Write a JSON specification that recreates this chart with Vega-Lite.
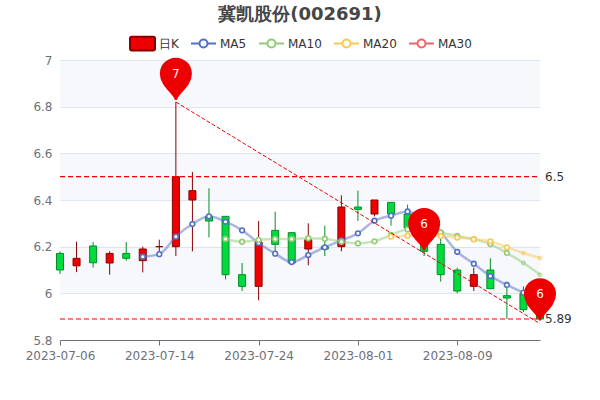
{
  "$schema": "https://vega.github.io/schema/vega-lite/v6.json",
  "width": 480,
  "height": 280,
  "autosize": "none",
  "padding": {"left": 60, "top": 60, "right": 60, "bottom": 60},
  "background": "white",
  "title": {
    "text": "冀凯股份(002691)",
    "font": "DejaVu Sans",
    "fontSize": 18,
    "fontWeight": "bold",
    "color": "#464646",
    "anchor": "middle",
    "offset": 6
  },
  "config": {
    "font": "DejaVu Sans",
    "view": {"stroke": null}
  },
  "datasets": {
    "bands": [
      {"lo": 6.8, "hi": 7},
      {"lo": 6.4, "hi": 6.6},
      {"lo": 6.0, "hi": 6.2}
    ],
    "candles": [
      {"date": "2023-07-06", "open": 6.171, "close": 6.1, "low": 6.083, "high": 6.18},
      {"date": "2023-07-07", "open": 6.118, "close": 6.15, "low": 6.091, "high": 6.221},
      {"date": "2023-07-10", "open": 6.203, "close": 6.131, "low": 6.11, "high": 6.22},
      {"date": "2023-07-11", "open": 6.13, "close": 6.171, "low": 6.08, "high": 6.18},
      {"date": "2023-07-12", "open": 6.171, "close": 6.15, "low": 6.14, "high": 6.22},
      {"date": "2023-07-13", "open": 6.14, "close": 6.19, "low": 6.09, "high": 6.2},
      {"date": "2023-07-14", "open": 6.2, "close": 6.2, "low": 6.16, "high": 6.23},
      {"date": "2023-07-17", "open": 6.2, "close": 6.5, "low": 6.16, "high": 6.82},
      {"date": "2023-07-18", "open": 6.4, "close": 6.44, "low": 6.18, "high": 6.52},
      {"date": "2023-07-19", "open": 6.33, "close": 6.31, "low": 6.24, "high": 6.45},
      {"date": "2023-07-20", "open": 6.33, "close": 6.08, "low": 6.06, "high": 6.33},
      {"date": "2023-07-21", "open": 6.08, "close": 6.03, "low": 6.01, "high": 6.13},
      {"date": "2023-07-24", "open": 6.03, "close": 6.22, "low": 5.97, "high": 6.31},
      {"date": "2023-07-25", "open": 6.27, "close": 6.21, "low": 6.18, "high": 6.35},
      {"date": "2023-07-26", "open": 6.26, "close": 6.13, "low": 6.13, "high": 6.26},
      {"date": "2023-07-27", "open": 6.19, "close": 6.23, "low": 6.12, "high": 6.3},
      {"date": "2023-07-28", "open": 6.2, "close": 6.19, "low": 6.16, "high": 6.29},
      {"date": "2023-07-31", "open": 6.2, "close": 6.37, "low": 6.18, "high": 6.42},
      {"date": "2023-08-01", "open": 6.37, "close": 6.36, "low": 6.31, "high": 6.44},
      {"date": "2023-08-02", "open": 6.34, "close": 6.4, "low": 6.33, "high": 6.4},
      {"date": "2023-08-03", "open": 6.39, "close": 6.34, "low": 6.29, "high": 6.39},
      {"date": "2023-08-04", "open": 6.34, "close": 6.28, "low": 6.27, "high": 6.38},
      {"date": "2023-08-07", "open": 6.26, "close": 6.18, "low": 6.16, "high": 6.27},
      {"date": "2023-08-08", "open": 6.21, "close": 6.08, "low": 6.05, "high": 6.24},
      {"date": "2023-08-09", "open": 6.1, "close": 6.01, "low": 6.0, "high": 6.11},
      {"date": "2023-08-10", "open": 6.03, "close": 6.08, "low": 6.01, "high": 6.11},
      {"date": "2023-08-11", "open": 6.1, "close": 6.02, "low": 6.02, "high": 6.15},
      {"date": "2023-08-14", "open": 5.99, "close": 5.98, "low": 5.89, "high": 6.05},
      {"date": "2023-08-15", "open": 6.0, "close": 5.93, "low": 5.92, "high": 6.03},
      {"date": "2023-08-16", "open": 5.93, "close": 5.89, "low": 5.89, "high": 5.95}
    ],
    "ma": [
      {"date": "2023-07-13", "series": "MA5", "value": 6.157},
      {"date": "2023-07-14", "series": "MA5", "value": 6.168},
      {"date": "2023-07-17", "series": "MA5", "value": 6.243},
      {"date": "2023-07-18", "series": "MA5", "value": 6.297},
      {"date": "2023-07-19", "series": "MA5", "value": 6.33},
      {"date": "2023-07-20", "series": "MA5", "value": 6.307},
      {"date": "2023-07-21", "series": "MA5", "value": 6.27},
      {"date": "2023-07-24", "series": "MA5", "value": 6.216},
      {"date": "2023-07-25", "series": "MA5", "value": 6.17},
      {"date": "2023-07-26", "series": "MA5", "value": 6.134},
      {"date": "2023-07-27", "series": "MA5", "value": 6.164},
      {"date": "2023-07-28", "series": "MA5", "value": 6.197},
      {"date": "2023-07-31", "series": "MA5", "value": 6.227},
      {"date": "2023-08-01", "series": "MA5", "value": 6.257},
      {"date": "2023-08-02", "series": "MA5", "value": 6.311},
      {"date": "2023-08-03", "series": "MA5", "value": 6.333},
      {"date": "2023-08-04", "series": "MA5", "value": 6.351},
      {"date": "2023-08-07", "series": "MA5", "value": 6.31},
      {"date": "2023-08-08", "series": "MA5", "value": 6.26},
      {"date": "2023-08-09", "series": "MA5", "value": 6.178},
      {"date": "2023-08-10", "series": "MA5", "value": 6.127},
      {"date": "2023-08-11", "series": "MA5", "value": 6.074},
      {"date": "2023-08-14", "series": "MA5", "value": 6.036},
      {"date": "2023-08-15", "series": "MA5", "value": 6.003},
      {"date": "2023-08-16", "series": "MA5", "value": 5.97},
      {"date": "2023-07-20", "series": "MA10", "value": 6.233},
      {"date": "2023-07-21", "series": "MA10", "value": 6.221},
      {"date": "2023-07-24", "series": "MA10", "value": 6.229},
      {"date": "2023-07-25", "series": "MA10", "value": 6.233},
      {"date": "2023-07-26", "series": "MA10", "value": 6.233},
      {"date": "2023-07-27", "series": "MA10", "value": 6.236},
      {"date": "2023-07-28", "series": "MA10", "value": 6.234},
      {"date": "2023-07-31", "series": "MA10", "value": 6.221},
      {"date": "2023-08-01", "series": "MA10", "value": 6.214},
      {"date": "2023-08-02", "series": "MA10", "value": 6.223},
      {"date": "2023-08-03", "series": "MA10", "value": 6.25},
      {"date": "2023-08-04", "series": "MA10", "value": 6.274},
      {"date": "2023-08-07", "series": "MA10", "value": 6.27},
      {"date": "2023-08-08", "series": "MA10", "value": 6.26},
      {"date": "2023-08-09", "series": "MA10", "value": 6.246},
      {"date": "2023-08-10", "series": "MA10", "value": 6.232},
      {"date": "2023-08-11", "series": "MA10", "value": 6.211},
      {"date": "2023-08-14", "series": "MA10", "value": 6.173},
      {"date": "2023-08-15", "series": "MA10", "value": 6.13},
      {"date": "2023-08-16", "series": "MA10", "value": 6.08},
      {"date": "2023-08-03", "series": "MA20", "value": 6.243},
      {"date": "2023-08-04", "series": "MA20", "value": 6.247},
      {"date": "2023-08-07", "series": "MA20", "value": 6.25},
      {"date": "2023-08-08", "series": "MA20", "value": 6.246},
      {"date": "2023-08-09", "series": "MA20", "value": 6.239},
      {"date": "2023-08-10", "series": "MA20", "value": 6.232},
      {"date": "2023-08-11", "series": "MA20", "value": 6.223},
      {"date": "2023-08-14", "series": "MA20", "value": 6.197},
      {"date": "2023-08-15", "series": "MA20", "value": 6.173},
      {"date": "2023-08-16", "series": "MA20", "value": 6.151}
    ],
    "legendRows": [
      {"date": "2023-07-06", "series": "日K", "value": null},
      {"date": "2023-07-06", "series": "MA5", "value": null},
      {"date": "2023-07-06", "series": "MA10", "value": null},
      {"date": "2023-07-06", "series": "MA20", "value": null},
      {"date": "2023-07-06", "series": "MA30", "value": null}
    ],
    "levels": [
      {"level": 6.5, "label": "6.5"},
      {"level": 5.89, "label": "5.89"}
    ],
    "trend": [
      {"date": "2023-07-17", "value": 6.82},
      {"date": "2023-08-16", "value": 5.87}
    ],
    "pins": [
      {"date": "2023-07-17", "value": 6.83, "label": "7"},
      {"date": "2023-08-07", "value": 6.186, "label": "6"},
      {"date": "2023-08-16", "value": 5.885, "label": "6"}
    ]
  },
  "data": {"name": "candles"},
  "encoding": {
    "x": {
      "field": "date",
      "type": "ordinal",
      "title": null,
      "scale": {"type": "point", "padding": 0, "range": [0.001, 480]},
      "axis": {
        "values": ["2023-07-06", "2023-07-14", "2023-07-24", "2023-08-01", "2023-08-09"],
        "labelAngle": 0,
        "labelColor": "#6E7079",
        "labelFontSize": 12,
        "labelPadding": 5,
        "labelOverlap": false,
        "domainColor": "#6E7079",
        "tickColor": "#6E7079",
        "tickSize": 5,
        "grid": false
      }
    }
  },
  "layer": [
    {
      "data": {"name": "bands"},
      "mark": {"type": "rect", "fill": "#D2DBEE", "fillOpacity": 0.2},
      "encoding": {
        "x": {"value": 0},
        "x2": {"value": 480},
        "y": {"field": "hi", "type": "quantitative"},
        "y2": {"field": "lo"}
      }
    },
    {
      "mark": {"type": "rule", "strokeWidth": 1},
      "encoding": {
        "y": {
          "field": "low",
          "type": "quantitative",
          "title": null,
          "scale": {"domain": [5.8, 7], "nice": false, "zero": false},
          "axis": {
            "values": [5.8, 6, 6.2, 6.4, 6.6, 6.8, 7],
            "format": ".1~f",
            "domain": false,
            "ticks": false,
            "labelColor": "#6E7079",
            "labelFontSize": 12,
            "labelPadding": 8,
            "gridColor": "#E0E6F1"
          }
        },
        "y2": {"field": "high"},
        "stroke": {
          "condition": {"test": "datum.close >= datum.open", "value": "#8A0000"},
          "value": "#008F28"
        }
      }
    },
    {
      "mark": {"type": "bar", "size": 7, "strokeWidth": 1},
      "encoding": {
        "y": {"field": "open", "type": "quantitative"},
        "y2": {"field": "close"},
        "fill": {
          "condition": {"test": "datum.close >= datum.open", "value": "#EE0000"},
          "value": "#00DA3C"
        },
        "stroke": {
          "condition": {"test": "datum.close >= datum.open", "value": "#8A0000"},
          "value": "#008F28"
        }
      }
    },
    {
      "data": {"name": "ma"},
      "mark": {"type": "line", "interpolate": "monotone", "strokeWidth": 2.5, "strokeOpacity": 0.5},
      "encoding": {
        "y": {"field": "value", "type": "quantitative"},
        "stroke": {"field": "series", "type": "nominal"}
      }
    },
    {
      "data": {"name": "ma"},
      "transform": [{"filter": "datum.date < '2023-08-15' || datum.series == 'MA5'"}],
      "mark": {"type": "point", "filled": false, "fill": "white", "fillOpacity": 1, "size": 22, "strokeWidth": 1.6, "opacity": 1},
      "encoding": {
        "y": {"field": "value", "type": "quantitative"},
        "stroke": {"field": "series", "type": "nominal"}
      }
    },
    {
      "data": {"name": "ma"},
      "transform": [{"filter": "datum.date >= '2023-08-15' && datum.series != 'MA5'"}],
      "mark": {"type": "point", "filled": false, "size": 4, "strokeWidth": 3, "strokeOpacity": 0.8},
      "encoding": {
        "y": {"field": "value", "type": "quantitative"},
        "stroke": {"field": "series", "type": "nominal"}
      }
    },
    {
      "data": {"name": "levels"},
      "mark": {"type": "rule", "stroke": "#EE0000", "strokeWidth": 1.2, "strokeDash": [5, 3]},
      "encoding": {
        "x": {"value": 0},
        "x2": {"value": 480},
        "y": {"field": "level", "type": "quantitative"}
      }
    },
    {
      "data": {"name": "trend"},
      "mark": {"type": "line", "stroke": "#EE0000", "strokeWidth": 1, "strokeDash": [4, 2]},
      "encoding": {
        "y": {"field": "value", "type": "quantitative"}
      }
    },
    {
      "data": {"name": "pins"},
      "mark": {
        "type": "point",
        "filled": true,
        "fill": "#EE0000",
        "stroke": "#EE0000",
        "opacity": 1,
        "size": 1024,
        "shape": "M0,0 C-0.1,-0.4 -0.94,-0.9 -0.94,-1.625 A0.94,0.94 0 1 1 0.94,-1.625 C0.94,-0.9 0.1,-0.4 0,0 Z"
      },
      "encoding": {
        "y": {"field": "value", "type": "quantitative"}
      }
    },
    {
      "data": {"name": "pins"},
      "mark": {"type": "text", "color": "white", "fontSize": 12, "baseline": "middle", "dy": -26},
      "encoding": {
        "y": {"field": "value", "type": "quantitative"},
        "text": {"field": "label"}
      }
    },
    {
      "data": {"name": "levels"},
      "mark": {"type": "text", "align": "left", "baseline": "middle", "dx": 5, "fontSize": 12, "color": "#333333"},
      "encoding": {
        "x": {"value": 480},
        "y": {"field": "level", "type": "quantitative"},
        "text": {"field": "label"}
      }
    },
    {
      "data": {"name": "legendRows"},
      "mark": {"type": "point", "filled": false, "opacity": 1},
      "encoding": {
        "y": {"field": "value", "type": "quantitative"},
        "stroke": {
          "field": "series",
          "type": "nominal",
          "scale": {
            "domain": ["日K", "MA5", "MA10", "MA20", "MA30"],
            "range": ["#8A0000", "#5470C6", "#91CC75", "#FAC858", "#EE6666"]
          },
          "legend": {
            "title": null,
            "orient": "none",
            "legendX": 69,
            "legendY": -30,
            "direction": "horizontal",
            "columns": 5,
            "gridAlign": "none",
            "columnPadding": 8,
            "symbolSize": 625,
            "symbolStrokeWidth": 2,
            "labelFontSize": 12,
            "labelColor": "#333333",
            "labelOffset": 3,
            "encode": {
              "symbols": {
                "update": {
                  "opacity": {"value": 1},
                  "strokeOpacity": {"value": 1},
                  "fillOpacity": {"value": 1}
                }
              }
            }
          }
        },
        "fill": {
          "field": "series",
          "type": "nominal",
          "scale": {
            "domain": ["日K", "MA5", "MA10", "MA20", "MA30"],
            "range": ["#EE0000", "#FFFFFF", "#FFFFFF", "#FFFFFF", "#FFFFFF"]
          }
        },
        "shape": {
          "field": "series",
          "type": "nominal",
          "scale": {
            "domain": ["日K", "MA5", "MA10", "MA20", "MA30"],
            "range": [
              "M-0.85,-0.55 L0.85,-0.55 Q1,-0.55 1,-0.4 L1,0.4 Q1,0.55 0.85,0.55 L-0.85,0.55 Q-1,0.55 -1,0.4 L-1,-0.4 Q-1,-0.55 -0.85,-0.55 Z",
              "M-1,0 L-0.32,0 M0.32,0 L1,0 M0.32,0 A0.32,0.32 0 1 1 -0.32,0 A0.32,0.32 0 1 1 0.32,0 Z",
              "M-1,0 L-0.32,0 M0.32,0 L1,0 M0.32,0 A0.32,0.32 0 1 1 -0.32,0 A0.32,0.32 0 1 1 0.32,0 Z",
              "M-1,0 L-0.32,0 M0.32,0 L1,0 M0.32,0 A0.32,0.32 0 1 1 -0.32,0 A0.32,0.32 0 1 1 0.32,0 Z",
              "M-1,0 L-0.32,0 M0.32,0 L1,0 M0.32,0 A0.32,0.32 0 1 1 -0.32,0 A0.32,0.32 0 1 1 0.32,0 Z"
            ]
          }
        }
      }
    }
  ]
}
